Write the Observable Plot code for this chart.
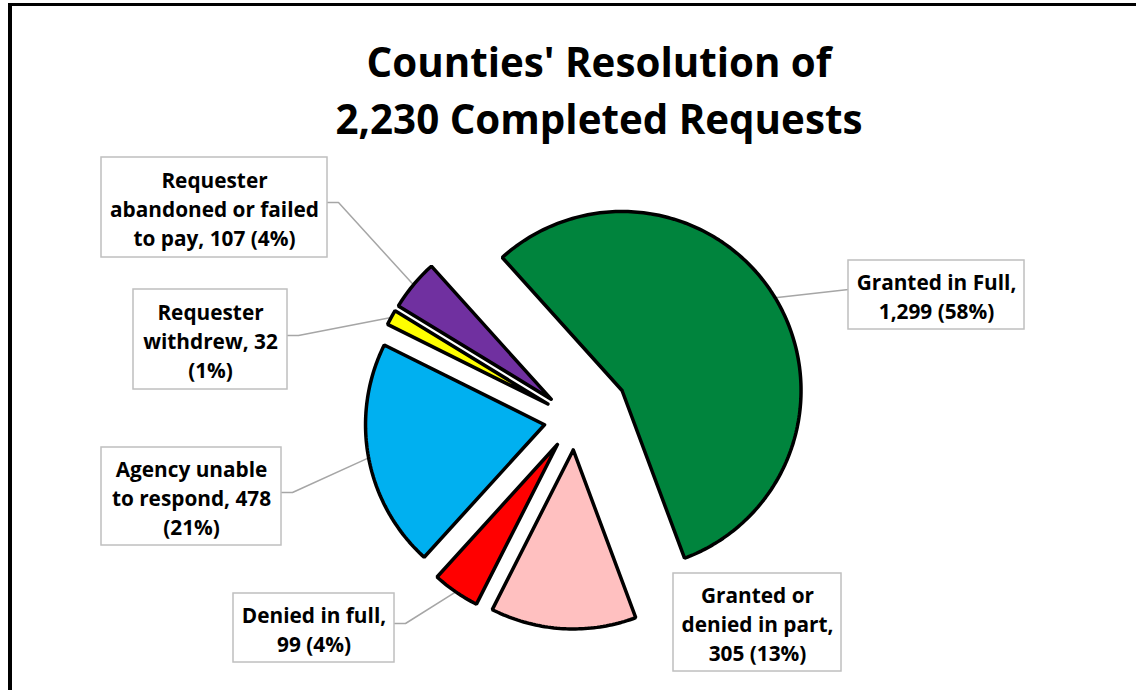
<!DOCTYPE html>
<html>
<head>
<meta charset="utf-8">
<script src="https://cdn.jsdelivr.net/npm/d3@7"></script>
<script src="https://cdn.jsdelivr.net/npm/@observablehq/plot@0.6"></script>
<style>
  html, body { margin: 0; padding: 0; background: #fff; overflow: hidden; width: 1136px; height: 690px; }
  #frame { position: absolute; left: 8px; top: 3px; width: 2000px; height: 2000px;
           border-left: 4px solid #000; border-top: 3.5px solid #000; pointer-events: none; }
  #chart { position: absolute; left: 0; top: 0; }
  #title { position: absolute; left: 0; top: 33px; width: 1198px; text-align: center;
           font-family: "Open Sans", Lato, sans-serif; font-weight: 700; font-size: 40.3px;
           line-height: 57px; color: #000; }
</style>
</head>
<body>
<div id="chart"></div>
<div id="title">Counties' Resolution of<br>2,230 Completed Requests</div>
<div id="frame"></div>
<script>
// ---- data ----
const categories = [
  "Granted in Full",
  "Granted or denied in part",
  "Denied in full",
  "Agency unable to respond",
  "Requester withdrew",
  "Requester abandoned or failed to pay"
];
const values = [1299, 305, 99, 478, 32, 107];
const labels = [
  "Granted in Full,\n1,299 (58%)",
  "Granted or\ndenied in part,\n305 (13%)",
  "Denied in full,\n99 (4%)",
  "Agency unable\nto respond, 478\n(21%)",
  "Requester\nwithdrew, 32\n(1%)",
  "Requester\nabandoned or failed\nto pay, 107 (4%)"
];

// ---- styles & layout ----
const colors = ["#00843D", "#FFC0C0", "#FF0000", "#00B0F0", "#FFFF00", "#7030A0"];
const explode = [55, 31, 31, 31, 31, 31];
const pie = {cx: 574.5, cy: 418.5, r: 179, startDeg: 318};
// label boxes [x1, x2, y1, y2] and leader start/elbow (null = none)
const boxes = [
  [848, 1024, 260, 329],
  [673, 841, 573, 671],
  [233, 394, 593, 662],
  [101, 281, 447, 545],
  [133, 287, 289, 389],
  [101, 327, 157, 257]
];
const leaderStarts = [
  [[848, 289]],
  null,
  [[394, 623], [405, 623]],
  [[281, 492], [292, 492]],
  [[287, 335], [298, 335]],
  [[327, 202], [338, 202]]
];

// ---- geometry from data ----
const start = pie.startDeg * Math.PI / 180;
const arcs = d3.pie().sort(null).value(d => d).startAngle(start).endAngle(start + 2 * Math.PI)(values);

const slicePts = [];
const leaderPts = [];
arcs.forEach((a, i) => {
  const mid = (a.startAngle + a.endAngle) / 2;
  const ox = pie.cx + explode[i] * Math.sin(mid);
  const oy = pie.cy - explode[i] * Math.cos(mid);
  const n = Math.max(4, Math.ceil((a.endAngle - a.startAngle) / (Math.PI / 180)));
  slicePts.push({k: i, x: ox, y: oy});
  for (let j = 0; j <= n; j++) {
    const t = a.startAngle + (a.endAngle - a.startAngle) * j / n;
    slicePts.push({k: i, x: ox + pie.r * Math.sin(t), y: oy - pie.r * Math.cos(t)});
  }
  slicePts.push({k: i, x: ox, y: oy});
  if (leaderStarts[i]) {
    leaderStarts[i].forEach(p => leaderPts.push({k: i, x: p[0], y: p[1]}));
    leaderPts.push({k: i, x: ox + pie.r * Math.sin(mid), y: oy - pie.r * Math.cos(mid)});
  }
});

const boxData = boxes.map((b, i) => ({k: i, x1: b[0], x2: b[1], y1: b[2], y2: b[3], label: labels[i]}));

const plot = Plot.plot({
  width: 1136,
  height: 690,
  margin: 0,
  x: {domain: [0, 1136], range: [0, 1136], axis: null},
  y: {domain: [0, 690], range: [0, 690], axis: null},
  color: {domain: d3.range(categories.length), range: colors},
  style: {background: "transparent", overflow: "visible"},
  marks: [
    Plot.line(leaderPts, {x: "x", y: "y", z: "k", stroke: "#A6A6A6", strokeWidth: 1.5, curve: "linear"}),
    Plot.line(slicePts, {x: "x", y: "y", z: "k", fill: d => d.k, stroke: "#000", strokeWidth: 3.5,
                         strokeLinejoin: "miter", curve: "linear"}),
    Plot.rect(boxData, {x1: "x1", x2: "x2", y1: "y1", y2: "y2", fill: "#fff", stroke: "#BFBFBF", strokeWidth: 1.5}),
    Plot.text(boxData, {x: d => (d.x1 + d.x2) / 2, y: d => (d.y1 + d.y2) / 2, text: "label",
                        fontFamily: "'Open Sans', Lato, sans-serif", fontWeight: 700, fontSize: 20.8,
                        lineHeight: 1.39, lineAnchor: "middle", textAnchor: "middle", fill: "#000"})
  ]
});
document.getElementById("chart").appendChild(plot);
</script>
</body>
</html>
